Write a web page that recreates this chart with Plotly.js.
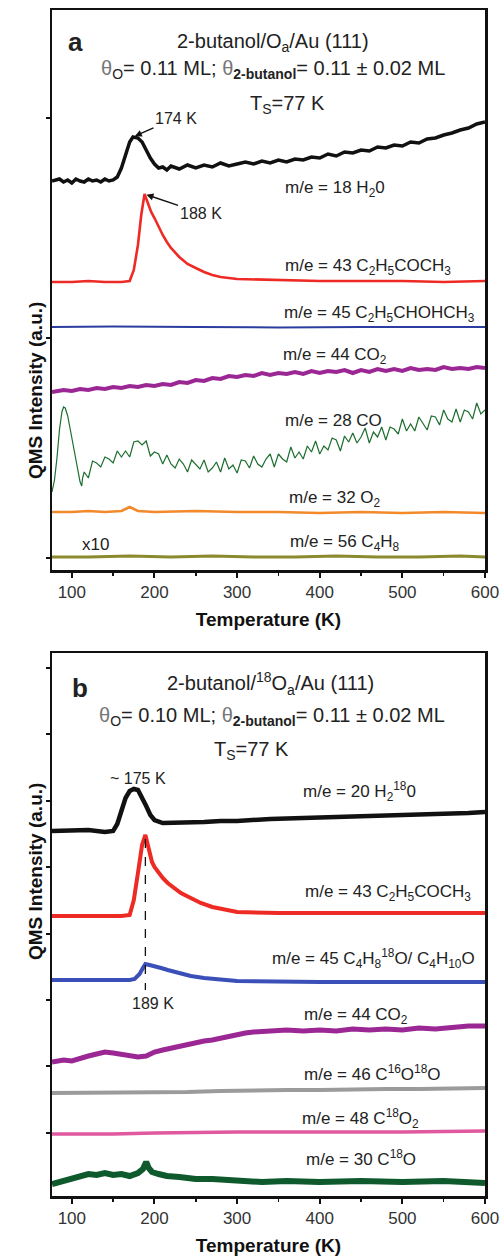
<!DOCTYPE html>
<html><head><meta charset="utf-8">
<script src="https://cdn.plot.ly/plotly-3.0.1.min.js"></script>
<style>html,body{margin:0;padding:0;background:#fff}#chart{width:500px;height:1256px}</style>
</head><body><div id="chart"></div>
<script>
// ---------- Panel a : 2-butanol/Oa/Au(111) ----------
const tA_h2o = [76,85,90,95,100,105,110,115,120,125,130,135,140,145,150,155,160,165,170,174,180,185,190,195,200,205,210,215,220,230,240,250,260,270,280,290,300,310,320,330,340,350,360,370,380,390,400,410,420,430,440,450,460,470,480,490,500,510,520,530,540,550,560,570,580,590,600];
const iA_h2o = [389,391,388,390,387,391,389,388,391,389,390,388,391,389,390,393,402,415,428,433,432,428,420,412,406,402,403,400,404,401,405,402,405,403,407,404,406,408,406,409,407,410,408,411,410,413,412,416,414,418,417,420,419,423,422,425,424,428,427,431,432,435,437,440,442,446,448];

const tA_ket = [76,100,120,140,160,170,175,180,184,188,192,196,200,205,210,215,220,230,240,250,260,270,280,300,350,400,450,500,550,600];
const iA_ket = [288,288,289,288,288,289,300,325,355,376,367,358,352,343,335,328,322,313,306,302,298,295,293,291,290,289,289,289,288,289];

const tA_but = [76,150,250,350,450,600];
const iA_but = [243,243.5,243,242.5,243,243];

const tA_co2 = [76,90,100,110,120,130,140,150,160,170,180,190,200,210,220,230,240,250,260,270,280,290,300,310,320,330,340,350,360,370,380,390,400,410,420,430,440,450,460,470,480,490,500,510,520,530,540,550,560,570,580,590,600];
const iA_co2 = [178,180,179,181,180,182,181,183,182,184,183,185,184,186,185,188,187,190,189,192,191,194,193,195,194,197,195,197,196,198,196,199,197,199,198,200,197,200,198,201,199,201,199,202,200,201,200,203,201,202,201,203,202];

const tA_co = [76,79,82,85,88,90,92,95,98,101,104,107,110,112,113,115,120,125,130,135,140,145,150,155,160,165,170,175,180,185,190,195,200,205,210,215,220,225,230,235,240,245,250,255,260,265,270,275,280,285,290,295,300,305,310,315,320,325,330,335,340,345,350,355,360,365,370,375,380,385,390,395,400,405,410,415,420,425,430,435,440,445,450,455,460,465,470,475,480,485,490,495,500,505,510,515,520,525,530,535,540,545,550,555,560,565,570,575,580,585,590,595,600];
const iA_co = [78,90,112,140,158,163,162,154,141,128,112,99,88,84,92,98,92,109,107,103,113,111,107,119,113,119,113,128,129,125,129,114,118,116,106,115,106,102,111,106,98,110,106,101,110,98,102,108,98,112,101,105,97,110,109,102,114,106,103,111,116,103,116,111,108,123,112,118,111,124,118,129,116,124,120,132,130,119,134,128,137,127,133,142,127,138,133,143,130,143,141,136,151,139,146,139,153,146,140,154,153,145,160,151,148,161,148,160,158,151,167,156,160];

const tA_o2 = [76,100,120,140,160,170,180,200,250,300,350,400,450,500,550,600];
const iA_o2 = [58,58,59,58,59,63,59,58,59,58,58,57,58,57,58,57];

const tA_c4h8 = [76,120,170,220,270,320,370,420,470,520,570,600];
const iA_c4h8 = [13,13,14,13,14,13,13,14,13,13,14,13];

// ---------- Panel b : 2-butanol/18Oa/Au(111) ----------
const tB_h2o = [76,100,120,140,150,155,160,165,170,175,180,185,190,195,200,210,220,240,260,280,300,340,380,420,460,500,540,580,600];
const iB_h2o = [365,365,366,364,365,372,386,398,405,407,406,399,390,381,376,373,373,374,374,375,375,377,378,379,379,380,381,383,384];

const tB_ket = [76,100,120,140,160,170,175,180,185,189,193,197,200,205,210,216,224,232,244,256,270,280,300,350,400,450,500,550,600];
const iB_ket = [280,280,279,280,280,281,296,323,351,361,346,334,329,323,318,313,308,303,298,293,289,287,284,283,283,283,283,283,283];

const tB_45 = [76,100,140,170,176,182,186,189,194,200,208,216,230,244,260,280,300,400,500,600];
const iB_45 = [216,216,215,216,217,222,228,232,231,230,228,226,223,220,218,217,215,214,214,214];

const tB_co2 = [76,90,100,110,120,130,140,150,160,170,180,190,200,210,220,230,240,250,260,270,280,290,300,310,320,340,360,380,400,420,440,460,480,500,520,540,560,580,600];
const iB_co2 = [134,136,135,138,140,142,144,143,142,140,139,140,144,146,148,150,151,153,155,156,158,160,162,163,164,165,166,165,166,165,167,166,167,166,168,167,169,170,170];

const tB_46 = [76,120,160,200,240,280,320,360,400,440,480,520,560,600];
const iB_46 = [103,103,104,104,104,105,106,106,106,107,107,107,108,108];

const tB_48 = [76,150,200,300,400,500,600];
const iB_48 = [62,62,63,64,64,64,65];

const tB_30 = [76,90,100,110,120,130,140,150,160,170,180,186,190,193,197,205,215,230,250,270,300,330,360,400,450,500,550,600];
const iB_30 = [12,15,17,19,22,21,23,21,22,20,23,27,34,28,24,22,20,19,17,17,15,14,15,14,15,14,15,13];

const peakB_T = 189;
const xTicks = [100,200,300,400,500,600];

function peakOf(t, v, tmax){ let k=0; for(let i=1;i<v.length;i++) if(t[i]<=tmax && v[i]>v[k]) k=i; return {x:t[k], y:v[k]}; }

function line(x, y, color, width, xa, ya){
  return {x:x, y:y, type:'scatter', mode:'lines', line:{color:color, width:width, shape:'linear'},
          xaxis:xa, yaxis:ya, hoverinfo:'skip'};
}

const traces = [
  line(tA_h2o, iA_h2o, '#111111', 3.5, 'x', 'y'),
  line(tA_ket, iA_ket, '#ee2a24', 2.6, 'x', 'y'),
  line(tA_but, iA_but, '#2b3ea0', 2, 'x', 'y'),
  line(tA_co2, iA_co2, '#9a2794', 4, 'x', 'y'),
  line(tA_co, iA_co, '#1d6e2f', 1.2, 'x', 'y'),
  line(tA_o2, iA_o2, '#f28a2c', 2.6, 'x', 'y'),
  line(tA_c4h8, iA_c4h8, '#8b8a2e', 3, 'x', 'y'),

  line(tB_h2o, iB_h2o, '#111111', 4.5, 'x2', 'y2'),
  line(tB_ket, iB_ket, '#ee2a24', 4, 'x2', 'y2'),
  line(tB_45, iB_45, '#3a4fb8', 4, 'x2', 'y2'),
  line(tB_co2, iB_co2, '#9a2794', 5, 'x2', 'y2'),
  line(tB_46, iB_46, '#9b9b9b', 4, 'x2', 'y2'),
  line(tB_48, iB_48, '#e0589e', 3.5, 'x2', 'y2'),
  line(tB_30, iB_30, '#0f5a2c', 6, 'x2', 'y2')
];
// dashed guide at the 189 K peak, spanning red peak to blue trace
const redPk = peakOf(tB_ket, iB_ket, 300);
traces.push({x:[peakB_T, peakB_T], y:[redPk.y-4, Math.min(...iB_45)-8], type:'scatter', mode:'lines',
  line:{color:'#111', width:1.3, dash:'dash'}, xaxis:'x2', yaxis:'y2', hoverinfo:'skip'});

const FONT = 'Liberation Sans, Arial, Helvetica, sans-serif';
const pkA1 = peakOf(tA_h2o, iA_h2o, 300);
const pkA2 = peakOf(tA_ket, iA_ket, 300);

function lab(text, x, y, xr, yr, size){
  return {text:text, x:x, y:y, xref:xr, yref:yr, showarrow:false, xanchor:'center', yanchor:'middle',
          font:{size:size||17, color:'#222', family:FONT}};
}
const th = '<span style="color:#777">θ</span>';
const annotations = [
  // panel a
  lab('<b>a</b>', 104, 528, 'x', 'y', 26),
  lab('2-butanol/O<sub>a</sub>/Au (111)', 343, 528, 'x', 'y', 20),
  lab(th+'<sub>O</sub>= 0.11 ML; '+th+'<sub><b>2-butanol</b></sub>= 0.11 ± 0.02 ML', 344, 501, 'x', 'y', 20),
  lab('T<sub>S</sub>=77 K', 361, 466, 'x', 'y', 20),
  lab('m/e = 18 H<sub>2</sub>0', 419, 381, 'x', 'y'),
  lab('m/e = 43 C<sub>2</sub>H<sub>5</sub>COCH<sub>3</sub>', 459, 303, 'x', 'y'),
  lab('m/e = 45 C<sub>2</sub>H<sub>5</sub>CHOHCH<sub>3</sub>', 472, 256, 'x', 'y'),
  lab('m/e = 44 CO<sub>2</sub>', 418, 214, 'x', 'y'),
  lab('m/e = 28 CO', 417, 150, 'x', 'y'),
  lab('m/e = 32 O<sub>2</sub>', 418, 71, 'x', 'y'),
  lab('m/e = 56 C<sub>4</sub>H<sub>8</sub>', 430, 27, 'x', 'y'),
  lab('x10', 129, 26, 'x', 'y'),
  {text:'174 K', x:pkA1.x, y:pkA1.y, xref:'x', yref:'y', showarrow:true, ax:43, ay:-19,
   arrowhead:2, arrowsize:1, arrowwidth:1.4, arrowcolor:'#111', standoff:2, font:{size:16, color:'#222', family:FONT}},
  {text:'188 K', x:pkA2.x, y:pkA2.y, xref:'x', yref:'y', showarrow:true, ax:56, ay:19,
   arrowhead:2, arrowsize:1, arrowwidth:1.4, arrowcolor:'#111', standoff:2, font:{size:16, color:'#222', family:FONT}},
  // panel b
  lab('<b>b</b>', 110, 508, 'x2', 'y2', 26),
  lab('2-butanol/<sup>18</sup>O<sub>a</sub>/Au (111)', 341, 513, 'x2', 'y2', 20),
  lab(th+'<sub>O</sub>= 0.10 ML; '+th+'<sub><b>2-butanol</b></sub>= 0.11 ± 0.02 ML', 342, 480, 'x2', 'y2', 20),
  lab('T<sub>S</sub>=77 K', 318, 446, 'x2', 'y2', 20),
  lab('~ 175 K', 180, 418, 'x2', 'y2', 16),
  lab('m/e = 20 H<sub>2</sub><sup>18</sup>0', 448, 405, 'x2', 'y2'),
  lab('m/e = 43 C<sub>2</sub>H<sub>5</sub>COCH<sub>3</sub>', 483, 303, 'x2', 'y2'),
  lab('m/e = 45 C<sub>4</sub>H<sub>8</sub><sup>18</sup>O/ C<sub>4</sub>H<sub>10</sub>O', 465, 238, 'x2', 'y2'),
  lab('189 K', 198, 193, 'x2', 'y2', 16),
  lab('m/e = 44 CO<sub>2</sub>', 444, 180, 'x2', 'y2'),
  lab('m/e = 46 C<sup>16</sup>O<sup>18</sup>O', 464, 123, 'x2', 'y2'),
  lab('m/e = 48 C<sup>18</sup>O<sub>2</sub>', 449, 78, 'x2', 'y2'),
  lab('m/e = 30 C<sup>18</sup>O', 450, 38, 'x2', 'y2'),
  // y titles
  {text:'<b>QMS Intensity (a.u.)</b>', x:0.046, y:1-300/1256, xref:'paper', yref:'paper', textangle:-90,
   showarrow:false, font:{size:19, color:'#111', family:FONT}},
  {text:'<b>QMS Intensity (a.u.)</b>', x:0.046, y:1-962/1256, xref:'paper', yref:'paper', textangle:-90,
   showarrow:false, font:{size:19, color:'#111', family:FONT}}
];

function xAxis(anchor){
  return {domain:[0.104, 0.97], anchor:anchor, range:[76,600], tickmode:'array', tickvals:xTicks,
    ticks:'outside', ticklen:5, tickwidth:2, tickcolor:'#111',
    minor:{tickvals:[150,250,350,450,550], ticks:'outside', ticklen:3, tickwidth:1.5, tickcolor:'#111'},
    showline:true, linecolor:'#111', linewidth:2.5, mirror:true, showgrid:false, zeroline:false,
    tickfont:{size:17, color:'#333', family:FONT},
    title:{text:'<b>Temperature (K)</b>', font:{size:19, color:'#111', family:FONT}, standoff:12}};
}
function yAxis(anchor, domain, range, tick0, dtick){
  return {domain:domain, anchor:anchor, range:range, showticklabels:false, ticks:'outside', ticklen:4,
    tickwidth:2, tickcolor:'#111', tick0:tick0, dtick:dtick, showline:true, linecolor:'#111', linewidth:2.5,
    mirror:true, showgrid:false, zeroline:false};
}

const layout = {
  width:500, height:1256, margin:{l:0, r:0, t:0, b:0},
  paper_bgcolor:'#ffffff', plot_bgcolor:'#ffffff', showlegend:false,
  font:{family:FONT, color:'#222'},
  xaxis: xAxis('y'),
  yaxis: yAxis('x', [1-570/1256, 1-10/1256], [0,560], 12, 220),
  xaxis2: xAxis('y2'),
  yaxis2: yAxis('x2', [1-1196/1256, 1-653/1256], [0,543], -3.2, 66.4),
  annotations: annotations
};

Plotly.newPlot('chart', traces, layout, {staticPlot:true, displayModeBar:false});
</script>
</body></html>
